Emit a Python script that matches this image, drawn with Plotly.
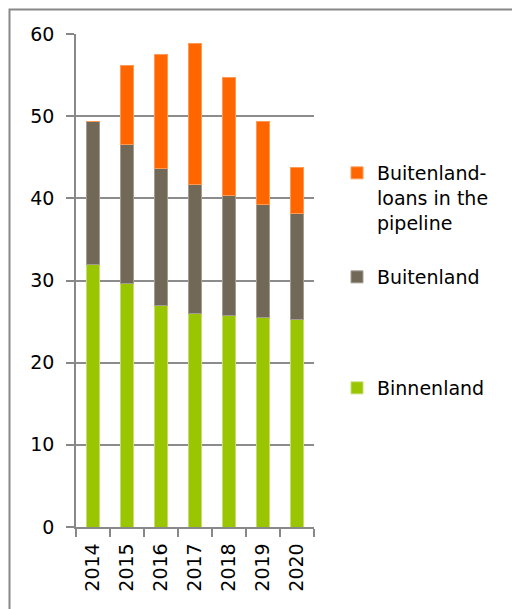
import plotly.graph_objects as go

years = ["2014", "2015", "2016", "2017", "2018", "2019", "2020"]
binnenland = [31.9, 29.6, 27.0, 26.0, 25.7, 25.5, 25.2]
buitenland = [17.4, 16.9, 16.6, 15.7, 14.7, 13.8, 12.9]
pipeline = [0, 9.7, 13.9, 17.2, 14.3, 10.1, 5.6]

FONT = "DejaVu Sans"
OFF = 8  # default page body margin
W, H = 520 - OFF, 609 - OFF
L, R, T, B = 76 - OFF, 314 - OFF, 34 - OFF, 527 - OFF


def px(x):
    return (x - OFF - L) / (R - L)


def py(y):
    return (B - (y - OFF)) / (B - T)


fig = go.Figure()
fig.add_trace(go.Bar(x=years, y=binnenland, name="Binnenland",
                     marker=dict(color="#99C600", line=dict(color="#C4DE70", width=1)),
                     legend="legend3"))
fig.add_trace(go.Bar(x=years, y=buitenland, name="Buitenland",
                     marker=dict(color="#716858", line=dict(color="#A39C90", width=1)),
                     legend="legend2"))
fig.add_trace(go.Bar(x=years, y=pipeline, name="Buitenland-<br>loans in the<br>pipeline",
                     marker=dict(color="#FF6600", line=dict(color="#FF9A55", width=1)),
                     legend="legend"))

leg_common = dict(xanchor="left", yanchor="top", bgcolor="rgba(0,0,0,0)",
                  font=dict(family=FONT, size=19, color="#000"), itemclick=False,
                  visible=True)

fig.update_layout(
    width=W, height=H,
    margin=dict(l=L, r=W - R, t=T, b=H - B),
    barmode="stack",
    bargap=0.61,
    showlegend=True,
    plot_bgcolor="white",
    paper_bgcolor="white",
    font=dict(family=FONT, size=19, color="#000"),
    legend=dict(x=px(337), y=py(154), valign="top", **leg_common),
    legend2=dict(x=px(337), y=py(258), **leg_common),
    legend3=dict(x=px(337), y=py(369), **leg_common),
    xaxis=dict(type="category", showline=True, linecolor="#888", linewidth=1.5,
               ticks="outside", tickson="boundaries", ticklen=8, tickcolor="#888",
               tickwidth=1.5, tickangle=-90, tickfont=dict(family=FONT, size=19),
               showgrid=False, ticklabelstandoff=7),
    yaxis=dict(range=[0, 60], dtick=10, showline=True, linecolor="#888", linewidth=1.5,
               ticks="outside", ticklen=8, tickcolor="#888", tickwidth=1.5,
               gridcolor="#8c8c8c", gridwidth=1.5, zeroline=False,
               tickfont=dict(family=FONT, size=19), ticklabelstandoff=8),
    shapes=[dict(type="rect", xref="paper", yref="paper",
                 x0=px(9.5), x1=px(540), y0=py(640), y1=py(9.5),
                 line=dict(color="#888", width=2), fillcolor="rgba(0,0,0,0)",
                 layer="below")],
)

fig.write_html("out.html")
